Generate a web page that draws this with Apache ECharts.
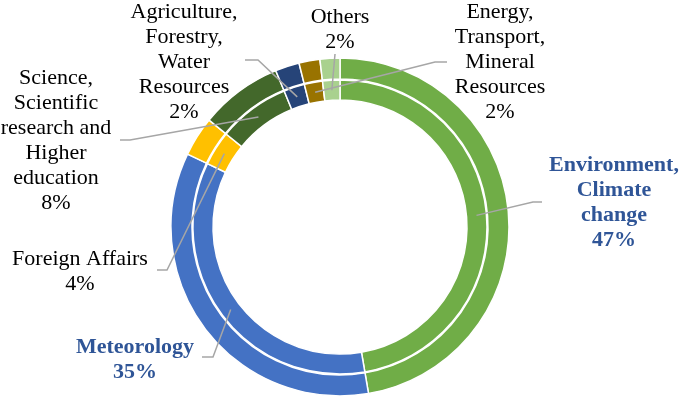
<!DOCTYPE html>
<html>
<head>
<meta charset="utf-8">
<script src="https://cdn.jsdelivr.net/npm/echarts@6/dist/echarts.min.js"></script>
<style>
  html, body { margin: 0; padding: 0; background: #fff; }
  #chart { width: 685px; height: 399px; }
</style>
</head>
<body>
<div id="chart"></div>
<script>
// sectors, clockwise from 12 o'clock
const categories = [
  'Environment,\nClimate\nchange',
  'Meteorology',
  'Foreign Affairs',
  'Science,\nScientific\nresearch and\nHigher\neducation',
  'Agriculture,\nForestry,\nWater\nResources',
  'Energy,\nTransport,\nMineral\nResources',
  'Others'
]
const shares = [47.3, 34.8, 3.8, 7.9, 2.3, 2.0, 1.9]
const colors = ['#70AD47', '#4472C4', '#FFC000', '#43682B', '#264478', '#997300', '#A9D18E']
const boldLabel = [true, true, false, false, false, false, false]

// where each label sits (center) and how its leader line bends
const labelPos = [[614, 203], [135, 360], [80, 272], [56, 141], [184, 62], [500, 62], [340, 30]]
const lineBend = [[533, 202], [213, 357], [167, 270], [130, 140], [258, 60], [435, 62], null]
const lineEnd  = [[542, 202], [202, 357], [157, 270], [120, 140], [245, 60], [447, 62], [335, 54]]

const font = "'Liberation Serif', 'Times New Roman', serif"
const center = [340, 227]

var chart = echarts.init(document.getElementById('chart'))

function ringData() {
  return categories.map((c, i) => ({ name: c, value: shares[i], itemStyle: { color: colors[i] } }))
}

const ringBase = {
  type: 'pie',
  center: center,
  startAngle: 90,
  clockwise: true,
  silent: true,
  label: { show: false },
  labelLine: { show: false },
  itemStyle: { borderColor: '#fff', borderWidth: 1.5 }
}

var option = {
  animation: false,
  backgroundColor: '#fff',
  series: [
    Object.assign({}, ringBase, { radius: [148, 169], data: ringData() }),
    Object.assign({}, ringBase, { radius: [127, 147], data: ringData() }),
    {
      // invisible ring at the middle of the inner band, only carries the labels
      type: 'pie',
      center: center,
      radius: [136, 137],
      startAngle: 90,
      clockwise: true,
      silent: true,
      avoidLabelOverlap: false,
      z: 5,
      itemStyle: { color: 'transparent', borderWidth: 0 },
      label: {
        show: true,
        position: 'outside',
        fontFamily: font,
        fontSize: 22,
        lineHeight: 25,
        color: '#000',
        align: 'center',
        formatter: p => p.name + '\n' + Math.round(p.percent) + '%'
      },
      labelLine: { show: true, lineStyle: { color: '#A6A6A6', width: 1.5 } },
      labelLayout: function (params) {
        const i = params.dataIndex
        const start = params.labelLinePoints ? params.labelLinePoints[0] : lineEnd[i]
        const pts = [start]
        if (lineBend[i]) pts.push(lineBend[i])
        pts.push(lineEnd[i])
        return {
          x: labelPos[i][0],
          y: labelPos[i][1],
          align: 'center',
          verticalAlign: 'middle',
          labelLinePoints: pts
        }
      },
      data: categories.map((c, i) => ({
        name: c,
        value: shares[i],
        label: boldLabel[i] ? { fontWeight: 'bold', color: '#2F5597' } : {}
      }))
    }
  ]
}

chart.setOption(option)
</script>
</body>
</html>
